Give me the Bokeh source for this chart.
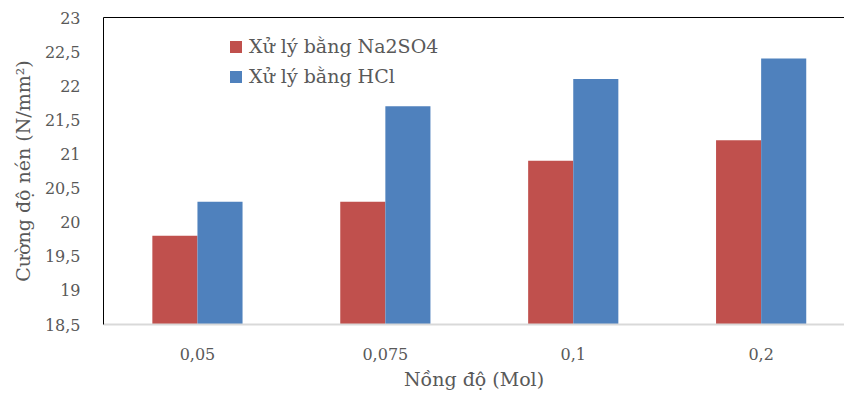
from bokeh.plotting import figure
from bokeh.models import Range1d, FixedTicker, LinearAxis, Legend, LegendItem
from bokeh.embed import file_html
from bokeh.resources import INLINE
import numpy as np

categories = ["0,05", "0,075", "0,1", "0,2"]
na2so4 = [19.8, 20.3, 20.9, 21.2]
hcl = [20.3, 21.7, 22.1, 22.4]
y_ticks = [18.5, 19, 19.5, 20, 20.5, 21, 21.5, 22, 22.5, 23]
y_tick_labels = ["18,5", "19", "19,5", "20", "20,5", "21", "21,5", "22", "22,5", "23"]
series_names = ["Xử lý bằng Na2SO4", "Xử lý bằng HCl"]
series_colors = ["#C0504D", "#4F81BD"]
x_title = "Nồng độ (Mol)"
y_title = "Cường độ nén (N/mm²)"

FONT = "DejaVu Serif"
TEXT = "#595959"

xc = np.arange(len(categories)) + 0.5
bw = 0.24

p = figure(width=844, height=397, output_backend="svg", toolbar_location=None,
           x_range=Range1d(0, 3.9436), y_range=Range1d(y_ticks[0], y_ticks[-1]),
           min_border_left=103, min_border_top=17, min_border_right=0, min_border_bottom=73)
p.background_fill_color = "white"
p.border_fill_color = "white"
p.outline_line_color = None
p.xgrid.visible = False
p.ygrid.visible = False

r1 = p.vbar(x=xc - bw / 2, top=na2so4, bottom=y_ticks[0], width=bw,
            fill_color=series_colors[0], line_color=None)
r2 = p.vbar(x=xc + bw / 2, top=hcl, bottom=y_ticks[0], width=bw,
            fill_color=series_colors[1], line_color=None)

# x axis
xa = p.xaxis[0]
xa.ticker = FixedTicker(ticks=list(xc))
xa.major_label_overrides = {float(x): c for x, c in zip(xc, categories)}
xa.axis_line_color = "#d9d9d9"
xa.axis_line_width = 2
xa.major_tick_line_color = None
xa.minor_tick_line_color = None
xa.major_tick_out = 0
xa.major_tick_in = 0
xa.major_label_standoff = 23
xa.major_label_text_font = FONT
xa.major_label_text_font_size = "16px"
xa.major_label_text_color = TEXT
xa.axis_label = x_title
xa.axis_label_text_font = FONT
xa.axis_label_text_font_size = "19px"
xa.axis_label_text_font_style = "normal"
xa.axis_label_text_color = TEXT
xa.axis_label_standoff = 5

# y axis
ya = p.yaxis[0]
ya.ticker = FixedTicker(ticks=y_ticks)
ya.major_label_overrides = dict(zip(y_ticks, y_tick_labels))
ya.axis_line_color = "black"
ya.axis_line_width = 1
ya.major_tick_line_color = None
ya.minor_tick_line_color = None
ya.major_tick_out = 0
ya.major_tick_in = 0
ya.major_label_standoff = 23
ya.major_label_text_font = FONT
ya.major_label_text_font_size = "16px"
ya.major_label_text_color = TEXT
ya.axis_label = y_title
ya.axis_label_text_font = FONT
ya.axis_label_text_font_size = "19px"
ya.axis_label_text_font_style = "normal"
ya.axis_label_text_color = TEXT
ya.axis_label_standoff = 8

# top border line
top = LinearAxis(ticker=FixedTicker(ticks=[]), axis_line_color="black",
                 major_tick_line_color=None, minor_tick_line_color=None,
                 major_tick_out=0, major_tick_in=0, major_label_standoff=0,
                 major_label_text_font_size="0px")
p.add_layout(top, "above")

legend = Legend(items=[LegendItem(label=series_names[0], renderers=[r1]),
                       LegendItem(label=series_names[1], renderers=[r2])],
                location=(125, 237), glyph_width=15, glyph_height=15,
                label_text_font=FONT, label_text_font_size="19px",
                label_text_color=TEXT, label_standoff=6, spacing=8,
                padding=0, margin=0, border_line_color=None,
                background_fill_alpha=0)
p.add_layout(legend)

open("out.html", "w").write(file_html(p, INLINE))
